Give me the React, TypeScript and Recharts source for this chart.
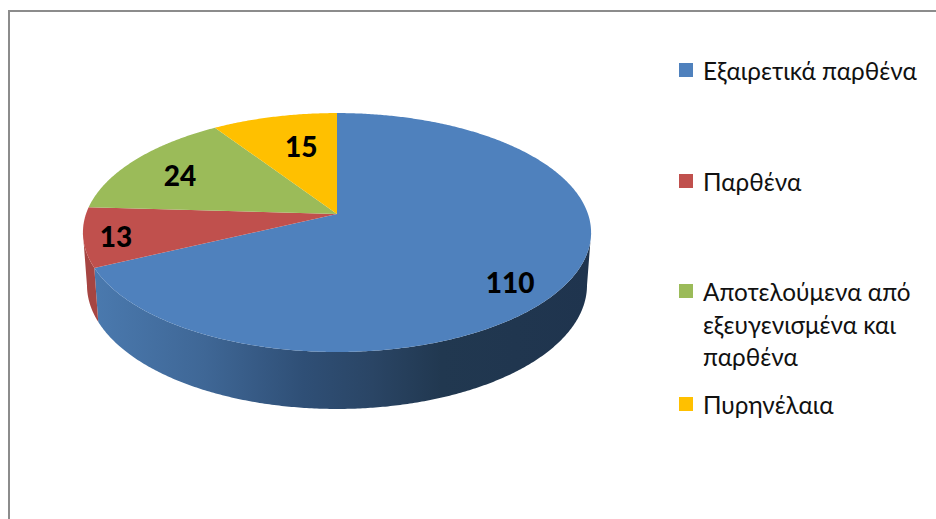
import React from "react";
import { PieChart, Pie, Legend } from "recharts";

const categories = [
  "Εξαιρετικά παρθένα",
  "Παρθένα",
  "Αποτελούμενα από εξευγενισμένα και παρθένα",
  "Πυρηνέλαια",
];
const values = [110, 13, 24, 15];
const colors = ["#4f81bd", "#c0504d", "#9bbb59", "#ffc000"];
const sideColors = ["url(#blueSide)", "#a64542", "#8aa84e", "#e0a800"];
const tableData = categories.map((name, i) => ({ name, value: values[i], fill: colors[i] }));

// label placement, as a share of the pie radius plus a nudge
const labelRadius = [0.78, 0.87, 0.75, 0.6];
const labelNudgeX = [-4, -1, -3, 4];
const labelNudgeY = [16, 2, 2, -6];
const legendTops = [47, 158, 268, 381];

const FONT = "Lato, 'Open Sans', 'Noto Sans', sans-serif";
const K = 0.155;
const TOP_A = 116.6;
const BOTTOM_R_SCALE = 0.984;
const BOTTOM_A = 120.8;
const BOTTOM_DY = 52;

const RAD = Math.PI / 180;

function project(cx: number, cy: number, R: number, A: number, deg: number, r = 1) {
  const t = -Math.sin(deg * RAD) * r;
  const c = Math.cos(deg * RAD) * r;
  const d = 1 - K * t;
  return { x: cx + (R * c) / d, y: cy + (A * t) / d };
}

function angles(start: number, end: number) {
  const out: number[] = [];
  const n = Math.max(2, Math.ceil(Math.abs(end - start) * 2));
  for (let i = 0; i <= n; i++) out.push(start + ((end - start) * i) / n);
  return out;
}

function Slice3D(props: any) {
  const { cx, cy, outerRadius, startAngle, endAngle, fill, index } = props;
  const all = angles(startAngle, endAngle);
  const top = all.map((a) => project(cx, cy, outerRadius, TOP_A, a));
  const topPath =
    `M${cx},${cy}` + top.map((p) => `L${p.x.toFixed(2)},${p.y.toFixed(2)}`).join("") + "Z";
  const visible = all.filter((a) => -Math.sin(a * RAD) >= K);
  let sidePath = "";
  if (visible.length > 1) {
    const upper = visible.map((a) => project(cx, cy, outerRadius, TOP_A, a));
    const lower = visible
      .slice()
      .reverse()
      .map((a) => project(cx, cy + BOTTOM_DY, outerRadius * BOTTOM_R_SCALE, BOTTOM_A, a));
    sidePath =
      [...upper, ...lower]
        .map((p, i) => `${i ? "L" : "M"}${p.x.toFixed(2)},${p.y.toFixed(2)}`)
        .join("") + "Z";
  }
  return (
    <g>
      {index === 0 && (
        <defs>
          <linearGradient id="blueSide" gradientUnits="userSpaceOnUse" x1="95" y1="0" x2="590" y2="0">
            <stop offset="0" stopColor="#4a79ae" />
            <stop offset="0.22" stopColor="#3f6796" />
            <stop offset="0.42" stopColor="#2f4f76" />
            <stop offset="0.56" stopColor="#2a4565" />
            <stop offset="0.7" stopColor="#213850" />
            <stop offset="1" stopColor="#1f344e" />
          </linearGradient>
        </defs>
      )}
      {sidePath && <path d={sidePath} fill={sideColors[index]} />}
      <path d={topPath} fill={fill} />
    </g>
  );
}

function renderLabel(props: any) {
  const { cx, cy, outerRadius, midAngle, index, value } = props;
  const p = project(cx, cy, outerRadius, TOP_A, midAngle, labelRadius[index]);
  return (
    <text
      x={p.x + labelNudgeX[index]}
      y={p.y + labelNudgeY[index]}
      textAnchor="middle"
      dominantBaseline="central"
      fontFamily={FONT}
      fontWeight={900}
      fontSize={28}
      fill="#000"
    >
      {value}
    </text>
  );
}

function LegendContent(props: any) {
  const payload = props.payload || [];
  return (
    <div style={{ position: "relative", width: 240, height: 400 }}>
      {payload.map((item: any, i: number) => (
        <div key={i} style={{ position: "absolute", left: 0, top: legendTops[i], width: 240 }}>
          <span
            style={{
              position: "absolute",
              left: 0,
              top: 8,
              width: 14,
              height: 14,
              background: colors[i],
            }}
          />
          <div
            style={{
              marginLeft: 24,
              width: 215,
              fontFamily: FONT,
              fontSize: 24.3,
              lineHeight: "32.5px",
              color: "#111",
            }}
          >
            {item.value}
          </div>
        </div>
      ))}
    </div>
  );
}

export default function App() {
  return (
    <div style={{ position: "absolute", left: 0, top: 0, width: 936, height: 519, overflow: "hidden", background: "#fff" }}>
      <div
        style={{
          position: "absolute",
          left: 8,
          top: 10,
          right: -4,
          bottom: -4,
          borderLeft: "2px solid #8c8c8c",
          borderTop: "2px solid #8c8c8c",
        }}
      />
      <PieChart
        width={936}
        height={519}
        margin={{ top: 0, right: 0, bottom: 0, left: 0 }}
        style={{ position: "absolute", left: 0, top: 0 }}
      >
        <Pie
          data={tableData}
          dataKey="value"
          nameKey="name"
          cx={337}
          cy={214}
          outerRadius={251}
          startAngle={90}
          endAngle={-270}
          stroke="none"
          isAnimationActive={false}
          shape={Slice3D}
          label={renderLabel}
          labelLine={false}
        />
        <Legend
          layout="vertical"
          align="right"
          verticalAlign="top"
          itemSorter={null}
          content={LegendContent}
          wrapperStyle={{ position: "absolute", left: 679, top: 8, right: "auto", width: 240 }}
        />
      </PieChart>
    </div>
  );
}
